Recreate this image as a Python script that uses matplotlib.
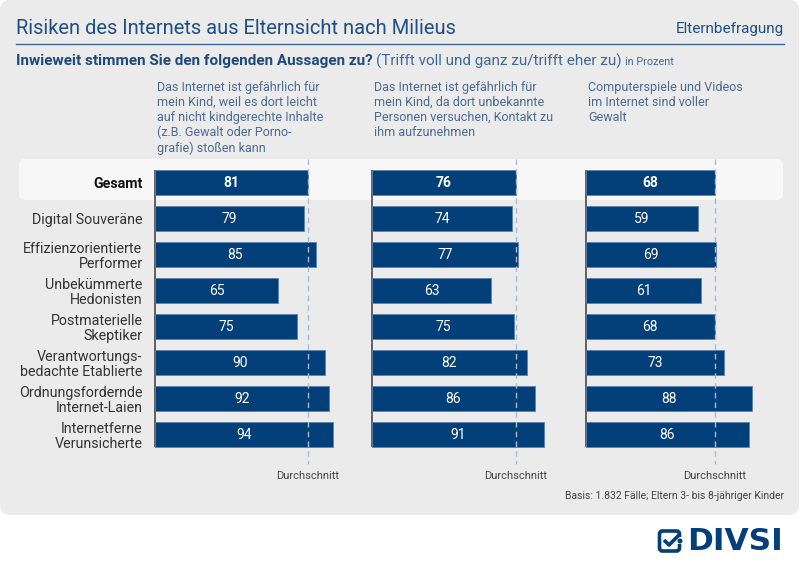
import matplotlib
matplotlib.use("Agg")
import matplotlib.pyplot as plt
from matplotlib.patches import FancyBboxPatch
from matplotlib import font_manager

# ---------------- data ----------------
categories = ["Gesamt", "Digital Souveräne", "Effizienzorientierte\nPerformer",
              "Unbekümmerte\nHedonisten", "Postmaterielle\nSkeptiker",
              "Verantwortungs-\nbedachte Etablierte", "Ordnungsfordernde\nInternet-Laien",
              "Internetferne\nVerunsicherte"]
vals_inhalte = [81, 79, 85, 65, 75, 90, 92, 94]
vals_kontakt = [76, 74, 77, 63, 75, 82, 86, 91]
vals_gewalt = [68, 59, 69, 61, 68, 73, 88, 86]
headers = ["Das Internet ist gefährlich für\nmein Kind, weil es dort leicht\nauf nicht kindgerechte Inhalte\n(z.B. Gewalt oder Porno-\ngrafie) stoßen kann",
           "Das Internet ist gefährlich für\nmein Kind, da dort unbekannte\nPersonen versuchen, Kontakt zu\nihm aufzunehmen",
           "Computerspiele und Videos\nim Internet sind voller\nGewalt"]
title = "Risiken des Internets aus Elternsicht nach Milieus"
subtitle_bold = "Inwieweit stimmen Sie den folgenden Aussagen zu?"
subtitle_reg = "(Trifft voll und ganz zu/trifft eher zu)"
subtitle_small = "in Prozent"
avg_label = "Durchschnitt"
source = "Basis: 1.832 Fälle; Eltern 3- bis 8-jähriger Kinder"

names = {f.name for f in font_manager.fontManager.ttflist}
FONT = "Roboto" if "Roboto" in names else "DejaVu Sans"
plt.rcParams["font.family"] = [FONT, "DejaVu Sans"]

BAR = "#033f78"
TITLE_C = "#1f4f80"
HEAD_C = "#4a6b93"
LABEL_C = "#333333"
BG = "#ebebeb"

W, H = 800, 566
fig = plt.figure(figsize=(8, 5.66), dpi=100)
fig.patch.set_facecolor("white")

bg = fig.add_axes([0, 0, 1, 1])
bg.set_xlim(0, W)
bg.set_ylim(H, 0)
bg.axis("off")

bg.add_patch(FancyBboxPatch((0, 0), W - 1, 515, boxstyle="round,pad=0,rounding_size=10",
                            facecolor=BG, edgecolor="none"))
# Gesamt highlight
bg.add_patch(FancyBboxPatch((19, 159), 764, 41, boxstyle="round,pad=0,rounding_size=6",
                            facecolor="#f7f7f7", edgecolor="none"))

bg.text(16, 28, title, fontsize=14.5, color=TITLE_C, va="center", ha="left")
bg.text(784, 29, "Elternbefragung", fontsize=11, color=TITLE_C, va="center", ha="right")
bg.plot([16, 784], [44, 44], color="#3d6a98", lw=1)

r = fig.canvas.get_renderer()
t1 = bg.text(16, 61, subtitle_bold, fontsize=11, fontweight="bold", color="#1d4a78", va="center")
ext = t1.get_window_extent(r)
x2 = ext.x1 * 800 / fig.bbox.width + 3
t2 = bg.text(x2, 61, subtitle_reg, fontsize=11, color="#3d6a98", va="center")
ext2 = t2.get_window_extent(r)
x3 = ext2.x1 * 800 / fig.bbox.width + 4
bg.text(x3, 62, subtitle_small, fontsize=7.8, color="#3d6a98", va="center")

bg.text(784, 496, source, fontsize=7.5, color="#444444", ha="right", va="center")

# logo
bg.add_patch(FancyBboxPatch((659.5, 531), 20, 20, boxstyle="round,pad=0,rounding_size=3",
                            facecolor="none", edgecolor=BAR, lw=2.6))
bg.add_patch(plt.Rectangle((676, 537), 6, 7, facecolor="white", edgecolor="none"))
bg.plot([664, 669, 679], [540, 545, 535], color=BAR, lw=2.6, solid_capstyle="butt")
bg.add_patch(plt.Circle((680, 541), 1.8, color=BAR))
bg.text(687, 541, "DIVSI", fontsize=22.5, fontweight="bold", color=BAR, va="center", ha="left",
        family="DejaVu Sans")

# ---------------- bar panels ----------------
ROW0, PITCH, BARH = 182.5, 36.0, 25.0
TOP, BOT = 150, 470
lefts = [155, 372, 586]
span = 189.0
n = len(categories)
series = [vals_inhalte, vals_kontakt, vals_gewalt]

def dy(px):
    return (px - ROW0) / PITCH

for ci, (L, vals, head) in enumerate(zip(lefts, series, headers)):
    ax = fig.add_axes([L / W, 1 - BOT / H, span / W, (BOT - TOP) / H])
    ax.set_xlim(0, 100)
    ax.set_ylim(dy(BOT), dy(TOP))
    ax.patch.set_alpha(0)
    for s in ax.spines.values():
        s.set_visible(False)
    ax.set_xticks([])
    h = BARH / PITCH
    ax.plot([0, 0], [-h / 2, n - 1 + h / 2], color="#555555", lw=1.3, zorder=1,
            solid_capstyle="butt", clip_on=False)
    ax.barh(range(n), vals, height=h, color=BAR, edgecolor="#5d82ab", lw=0.6, zorder=2)
    avg = vals[0]
    ax.plot([avg, avg], [dy(159), dy(464)], color="#a9b9d3", lw=1, ls=(0, (4, 3)),
            zorder=3, clip_on=False)
    ax.text(avg, dy(476), avg_label, ha="center", va="center", fontsize=8,
            color="#444444", clip_on=False)
    for i, v in enumerate(vals):
        ax.text(v / 2, i, str(v), ha="center", va="center", color="white", fontsize=10,
                fontweight="bold" if i == 0 else "normal", zorder=4)
    if ci == 0:
        ax.set_yticks(range(n))
        ax.set_yticklabels(categories, fontsize=10.3, color=LABEL_C, linespacing=1.05)
        ax.tick_params(axis="y", length=0, pad=9)
        lab0 = ax.get_yticklabels()[0]
        lab0.set_fontweight("bold")
        lab0.set_color("#111111")
    else:
        ax.set_yticks([])
    bg.text(L + 2, 81, head, fontsize=9, color=HEAD_C, va="top", ha="left", linespacing=1.2)

fig.savefig("out.png", dpi=100, facecolor="white")
